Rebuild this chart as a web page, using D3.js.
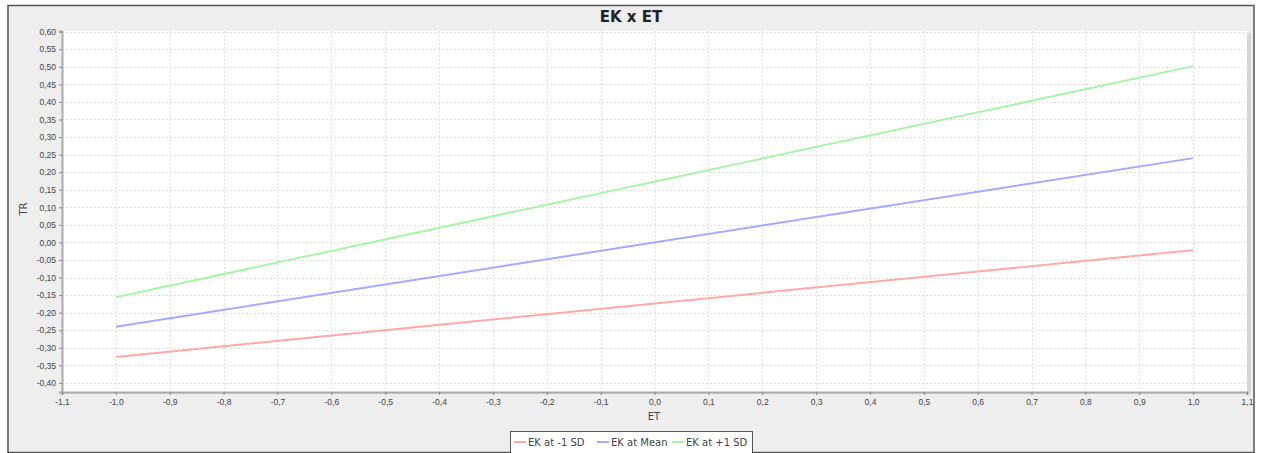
<!DOCTYPE html>
<html><head><meta charset="utf-8">
<script src="https://cdn.jsdelivr.net/npm/d3@7"></script>
<style>
body{margin:0;background:#fff;}
svg{display:block;font-family:"DejaVu Sans",sans-serif;}
</style></head>
<body><svg id="c" width="1263" height="453"></svg>
<script>
const seriesNames = ["EK at -1 SD", "EK at Mean", "EK at +1 SD"];
const seriesColors = ["#ffa8a8", "#a8a8ff", "#a8f5a8"];
const xValues = [-1.0, 1.0];
const lowValues = [-0.326, -0.022];
const meanValues = [-0.240, 0.240];
const highValues = [-0.156, 0.502];
const xTicks = [-1.1,-1.0,-0.9,-0.8,-0.7,-0.6,-0.5,-0.4,-0.3,-0.2,-0.1,0.0,0.1,0.2,0.3,0.4,0.5,0.6,0.7,0.8,0.9,1.0,1.1];
const yTicks = [0.60,0.55,0.50,0.45,0.40,0.35,0.30,0.25,0.20,0.15,0.10,0.05,0.00,-0.05,-0.10,-0.15,-0.20,-0.25,-0.30,-0.35,-0.40];
const title = "EK x ET", xLabel = "ET", yLabel = "TR";

const svg = d3.select("#c");
svg.append("rect").attr("x",8).attr("y",5.5).attr("width",1246).attr("height",447).attr("fill","#eeeeee").attr("stroke","#555").attr("stroke-width",1.5);

const L=62, R=1247, T=31, B=392;
const x = d3.scaleLinear().domain([-1.1,1.1]).range([L,R]);
const y = d3.scaleLinear().domain([-0.426,0.602]).range([B,T]);

svg.append("rect").attr("x",L+2).attr("y",T+2).attr("width",R-L+2).attr("height",B-T).attr("fill","#d8d8d8");
svg.append("rect").attr("x",L).attr("y",T).attr("width",R-L).attr("height",B-T).attr("fill","#ffffff");

const g = svg.append("g");
g.selectAll(".gx").data(xTicks.slice(1,-1)).join("line")
 .attr("x1",d=>Math.round(x(d))+0.5).attr("x2",d=>Math.round(x(d))+0.5).attr("y1",T).attr("y2",B)
 .attr("stroke","#dedede").attr("stroke-dasharray","2,2");
g.selectAll(".gy").data(yTicks).join("line")
 .attr("y1",d=>Math.round(y(d))+0.5).attr("y2",d=>Math.round(y(d))+0.5).attr("x1",L).attr("x2",R)
 .attr("stroke","#dedede").attr("stroke-dasharray","2,2");

const fmt = d => d3.format(".2f")(d).replace(".",",").replace("−","-");
const fmtx = d => d3.format(".1f")(d).replace(".",",").replace("−","-");

const yAxis = d3.axisLeft(y).tickValues(yTicks).tickFormat(fmt).tickSize(3).tickPadding(3);
const ya = svg.append("g").attr("transform",`translate(${L},0)`).call(yAxis);
const xAxis = d3.axisBottom(x).tickValues(xTicks).tickFormat(fmtx).tickSize(3).tickPadding(4);
const xa = svg.append("g").attr("transform",`translate(0,${B})`).call(xAxis);
[ya,xa].forEach(a=>{
  a.select(".domain").attr("stroke","#aaaaaa").attr("stroke-width",2);
  a.selectAll(".tick line").attr("stroke","#888");
  a.selectAll("text").attr("fill","#444").attr("font-size",8.5);
});

const allSeries = [lowValues, meanValues, highValues];
const line = d3.line().x((d,i)=>x(xValues[i])).y(d=>y(d));
allSeries.forEach((vals,k)=>{
  svg.append("path").datum(vals).attr("d",line).attr("fill","none")
   .attr("stroke",seriesColors[k]).attr("stroke-width",2);
});

svg.append("text").attr("x",631).attr("y",22).attr("text-anchor","middle").attr("font-weight","bold").attr("font-size",15).attr("fill","#222").text(title);
svg.append("text").attr("x",654).attr("y",420).attr("text-anchor","middle").attr("font-size",10).attr("fill","#444").text(xLabel);
svg.append("text").attr("transform","translate(27,209) rotate(-90)").attr("text-anchor","middle").attr("font-size",10).attr("fill","#444").text(yLabel);

const lg = svg.append("g");
lg.append("rect").attr("x",510.5).attr("y",431.5).attr("width",242).attr("height",24).attr("fill","#fff").attr("stroke","#555");
const lx = [514, 597, 672];
seriesNames.forEach((n,k)=>{
  lg.append("line").attr("x1",lx[k]).attr("x2",lx[k]+12).attr("y1",442).attr("y2",442).attr("stroke",seriesColors[k]).attr("stroke-width",2);
  lg.append("text").attr("x",lx[k]+14).attr("y",445.5).attr("font-size",10).attr("fill","#444").text(n);
});
</script></body></html>
